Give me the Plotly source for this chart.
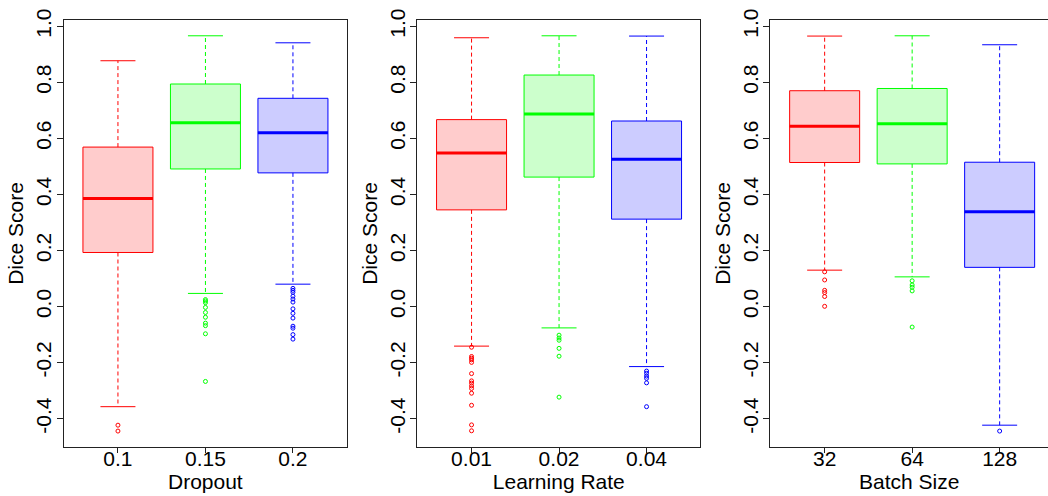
import plotly.graph_objects as go

# ---------------- data ----------------
dropout_labels = ["0.1", "0.15", "0.2"]
dropout_lower = [-0.357, 0.047, 0.080]
dropout_q1 = [0.193, 0.491, 0.477]
dropout_median = [0.386, 0.656, 0.620]
dropout_q3 = [0.569, 0.794, 0.743]
dropout_upper = [0.877, 0.966, 0.941]
dropout_outliers = [
    [-0.423, -0.444],
    [0.025, 0.020, 0.014, -0.003, -0.021, -0.038, -0.059, -0.068, -0.097, -0.267],
    [0.065, 0.058, 0.051, 0.037, 0.027, 0.016, -0.008, -0.024, -0.041, -0.070, -0.077, -0.100, -0.116],
]

lr_labels = ["0.01", "0.02", "0.04"]
lr_lower = [-0.141, -0.076, -0.214]
lr_q1 = [0.345, 0.462, 0.312]
lr_median = [0.548, 0.687, 0.526]
lr_q3 = [0.667, 0.826, 0.662]
lr_upper = [0.959, 0.966, 0.965]
lr_outliers = [
    [-0.145, -0.178, -0.184, -0.190, -0.199, -0.239, -0.265, -0.273, -0.283, -0.292, -0.309, -0.352, -0.422, -0.443],
    [-0.102, -0.112, -0.120, -0.149, -0.177, -0.323],
    [-0.230, -0.238, -0.248, -0.256, -0.272, -0.357],
]

bs_labels = ["32", "64", "128"]
bs_lower = [0.130, 0.106, -0.423]
bs_q1 = [0.514, 0.509, 0.140]
bs_median = [0.643, 0.652, 0.338]
bs_q3 = [0.770, 0.778, 0.515]
bs_upper = [0.965, 0.966, 0.934]
bs_outliers = [
    [0.124, 0.095, 0.058, 0.050, 0.036, 0.001],
    [0.092, 0.077, 0.069, 0.056, -0.073],
    [-0.444],
]

axis_titles = ["Dropout", "Learning Rate", "Batch Size"]
y_title = "Dice Score"
y_ticks = [-0.4, -0.2, 0.0, 0.2, 0.4, 0.6, 0.8, 1.0]

# ---------------- styling ----------------
line_colors = ["#FF0000", "#00FF00", "#0000FF"]
fill_colors = ["rgba(255,0,0,0.2)", "rgba(0,255,0,0.2)", "rgba(0,0,255,0.2)"]
FONT = "Liberation Sans, Arial, Helvetica, sans-serif"
W, H = 1048, 496
BOX_W = 0.8
CAP_W = 0.4

panels = [
    (dropout_labels, dropout_lower, dropout_q1, dropout_median, dropout_q3, dropout_upper, dropout_outliers),
    (lr_labels, lr_lower, lr_q1, lr_median, lr_q3, lr_upper, lr_outliers),
    (bs_labels, bs_lower, bs_q1, bs_median, bs_q3, bs_upper, bs_outliers),
]

# pixel frames of the three panels [left, right]
frames_px = [(63.7, 347.0), (417.3, 700.3), (770.4, 1048.0)]
top_px, bottom_px = 9.3, 445.7
unit_px = 87.5  # pixels per box slot
y_range = [-0.5002, 1.022]

fig = go.Figure()

for p, (labels, lo, q1, med, q3, up, outs) in enumerate(panels):
    ax = "" if p == 0 else str(p + 1)
    xref, yref = "x" + ax, "y" + ax
    positions = [1, 2, 3]
    for i, pos in enumerate(positions):
        c = line_colors[i]
        # box body
        fig.add_trace(go.Box(
            x=[pos], q1=[q1[i]], median=[med[i]], q3=[q3[i]],
            lowerfence=[q1[i]], upperfence=[q3[i]],
            width=BOX_W, whiskerwidth=0, boxpoints=False,
            fillcolor=fill_colors[i], line=dict(color=c, width=1),
            xaxis=xref, yaxis=yref, showlegend=False, hoverinfo="skip",
        ))
        # thick median
        fig.add_trace(go.Scatter(
            x=[pos - BOX_W / 2, pos + BOX_W / 2], y=[med[i], med[i]],
            mode="lines", line=dict(color=c, width=3),
            xaxis=xref, yaxis=yref, showlegend=False, hoverinfo="skip",
        ))
        # dashed whiskers
        fig.add_trace(go.Scatter(
            x=[pos, pos, None, pos, pos], y=[q3[i], up[i], None, q1[i], lo[i]],
            mode="lines", line=dict(color=c, width=1, dash="4px,3px"),
            xaxis=xref, yaxis=yref, showlegend=False, hoverinfo="skip",
        ))
        # caps
        fig.add_trace(go.Scatter(
            x=[pos - CAP_W / 2, pos + CAP_W / 2, None, pos - CAP_W / 2, pos + CAP_W / 2],
            y=[up[i], up[i], None, lo[i], lo[i]],
            mode="lines", line=dict(color=c, width=1),
            xaxis=xref, yaxis=yref, showlegend=False, hoverinfo="skip",
        ))
        # outliers
        fig.add_trace(go.Scatter(
            x=[pos] * len(outs[i]), y=outs[i],
            mode="markers",
            marker=dict(symbol="circle-open", size=4, color=c, line=dict(width=1, color=c)),
            xaxis=xref, yaxis=yref, showlegend=False, hoverinfo="skip",
        ))

    left, right = frames_px[p]
    x_left = 0.38
    x_right = 1 + (right - (left + 0.62 * unit_px)) / unit_px
    xa = dict(
        domain=[left / W, min(right / W, 1.0)],
        range=[x_left, x_right],
        tickvals=[1, 2, 3], ticktext=labels,
        ticks="outside", ticklen=5, tickwidth=1, tickcolor="#222",
        showline=True, linecolor="#222", linewidth=1, mirror=True,
        showgrid=False, zeroline=False,
        ticklabelstandoff=-12, ticklabeloverflow="allow",
        tickfont=dict(family=FONT, size=21, color="black"),
        title=dict(text=axis_titles[p], font=dict(family=FONT, size=21, color="black"), standoff=0),
        anchor=yref,
    )
    ya = dict(
        domain=[1 - bottom_px / H, 1 - top_px / H],
        range=y_range,
        tickvals=y_ticks, ticktext=[f"{v:.1f}" for v in y_ticks],
        tickangle=-90,
        ticks="outside", ticklen=6, tickwidth=1, tickcolor="#222",
        showline=True, linecolor="#222", linewidth=1, mirror=(p != 2),
        showgrid=False, zeroline=False,
        ticklabelstandoff=-3, ticklabeloverflow="allow",
        tickfont=dict(family=FONT, size=21, color="black"),
        title=dict(text=y_title, font=dict(family=FONT, size=21, color="black"), standoff=2),
        anchor=xref,
    )
    fig.update_layout(**{"xaxis" + ax: xa, "yaxis" + ax: ya})

fig.update_layout(
    width=W, height=H,
    margin=dict(l=0, r=0, t=0, b=0),
    paper_bgcolor="white", plot_bgcolor="white",
    showlegend=False,
    font=dict(family=FONT, color="black"),
)

fig.write_html(
    "out.html",
    config={"displayModeBar": False},
    post_script="document.body.style.margin='0px';document.body.style.overflow='hidden';",
)
